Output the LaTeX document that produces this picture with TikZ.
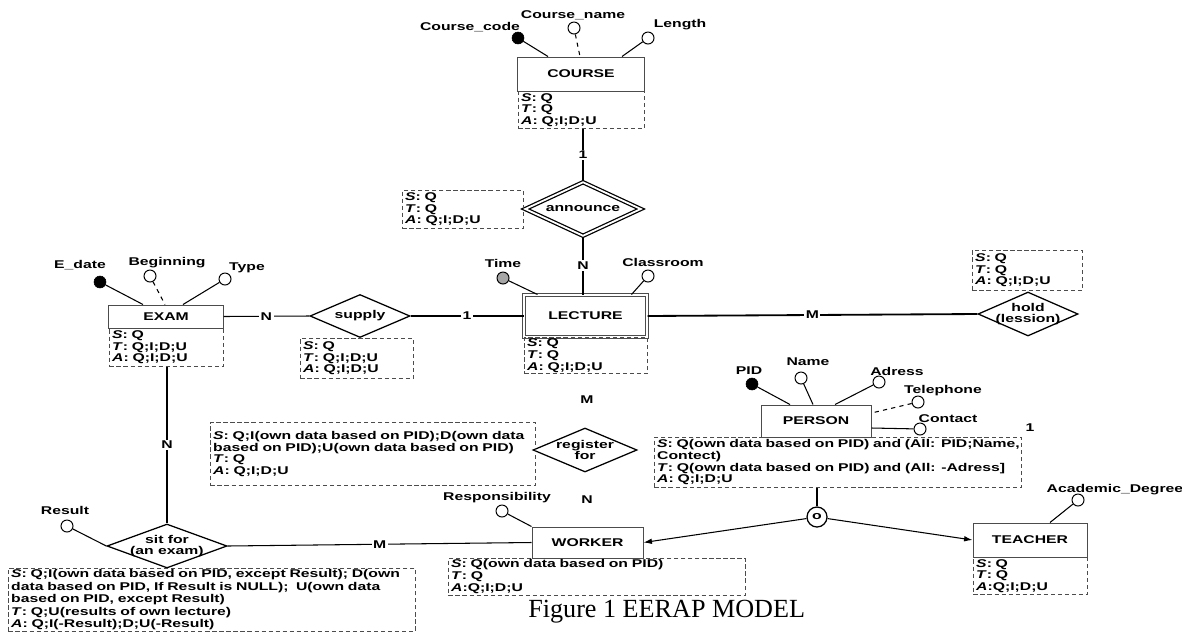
\documentclass[tikz,border=0pt]{standalone}
\usepackage{fontspec}
\usepackage{tikz}
\usetikzlibrary{shapes.geometric,arrows.meta,calc}
\newfontfamily\erfont{Liberation Sans}[FakeStretch=1.4]
\newfontfamily\capfont{Liberation Serif}
\newcommand{\perm}[1]{\textit{#1}:}

\begin{document}
\begin{tikzpicture}[x=0.025cm,y=-0.025cm,
		every node/.style={font=\erfont\bfseries\fontsize{8}{8.3}\selectfont},
		entity/.style={draw=black!70, line width=0.7pt, inner sep=0pt},
		weak/.style={entity, double, double distance=1.2pt},
		perms/.style={draw=black!70, dash pattern=on 3pt off 2pt, line width=0.6pt, anchor=north west, align=left, inner xsep=2pt, inner ysep=1pt},
		rel/.style={diamond, draw, line width=0.9pt, inner sep=0pt, label={[align=center]center:#1}},
		keyattr/.style={circle, draw, fill=black, minimum size=0.3cm, inner sep=0pt},
		attr/.style={circle, draw, line width=0.7pt, minimum size=0.3cm, inner sep=0pt},
		lbl/.style={inner sep=1pt},
		card/.style={fill=white, inner sep=1pt},
		link/.style={line width=0.75pt},
		strong/.style={line width=1.8pt}]
	\useasboundingbox (0,0) rectangle (1182,633);

	%Entidades
	\node[entity, minimum width=3.15cm, minimum height=0.85cm] (course) at (581,74) {COURSE};
	\node[perms, text width=3.01cm, minimum height=0.925cm] (cperm) at (518,91) {\perm{S} Q\\\perm{T} Q\\\perm{A} Q;I;D;U};

	\node[weak, minimum width=3.075cm, minimum height=1.05cm] (lecture) at (585.5,316) {LECTURE};
	\node[perms, text width=2.935cm, minimum height=0.875cm] (lperm) at (524,337) {\perm{S} Q\\\perm{T} Q\\\perm{A} Q;I;D;U};

	\node[entity, minimum width=2.85cm, minimum height=0.575cm] (exam) at (166,316.5) {EXAM};
	\node[perms, text width=2.71cm, minimum height=0.95cm] (eperm) at (109,328) {\perm{S} Q\\\perm{T} Q;I;D;U\\\perm{A} Q;I;D;U};

	\node[entity, minimum width=2.75cm, minimum height=0.8cm] (person) at (816,421) {PERSON};
	\node[perms, text width=9.035cm, minimum height=1.25cm] (pperm) at (654,437) {\mbox{\perm{S} Q(own data based on PID) and (All: PID;Name,}\\Contect)\\\mbox{\perm{T} Q(own data based on PID) and (All: -Adress]}\\\perm{A} Q;I;D;U};

	\node[entity, minimum width=2.775cm, minimum height=0.775cm] (worker) at (587.5,542.5) {WORKER};
	\node[perms, text width=7.285cm, minimum height=0.8cm] (wperm) at (448,558) {\perm{S} Q(own data based on PID)\\\perm{T} Q\\\perm{A}Q;I;D;U};

	\node[entity, minimum width=2.85cm, minimum height=0.85cm] (teacher) at (1030,540) {TEACHER};
	\node[perms, text width=2.71cm, minimum height=0.925cm] (tperm) at (973,557) {\perm{S} Q\\\perm{T} Q\\\perm{A}Q;I;D;U};

	%Relacionamentos
	\node[rel={announce}, double, double distance=1.3pt, minimum width=2.9cm, minimum height=1.35cm] (announce) at (583,209) {};
	\node[perms, text width=2.885cm, minimum height=0.95cm] (aperm) at (402,190) {\perm{S} Q\\\perm{T} Q\\\perm{A} Q;I;D;U};

	\node[rel={supply}, minimum width=2.5cm, minimum height=1.075cm] (supply) at (360,316) {};
	\node[perms, text width=2.685cm, minimum height=1cm] (sperm) at (300,338) {\perm{S} Q\\\perm{T} Q;I;D;U\\\perm{A} Q;I;D;U};

	\node[rel={hold\\(lession)}, minimum width=2.5cm, minimum height=1.1cm] (hold) at (1028,314) {};
	\node[perms, text width=2.61cm, minimum height=1cm] (hperm) at (972,250) {\perm{S} Q\\\perm{T} Q\\\perm{A} Q;I;D;U};

	\node[rel={register\\for}, minimum width=2.6cm, minimum height=1.1cm] (register) at (585,450) {};
	\node[perms, text width=7.985cm, minimum height=1.575cm] (rperm) at (210,422) {\perm{S} Q;I(own data based on PID);D(own data\\based on PID);U(own data based on PID)\\\perm{T} Q\\\perm{A} Q;I;D;U};

	\node[rel={sit for\\(an exam)}, minimum width=3cm, minimum height=1.1cm] (sitfor) at (167,546) {};
	\node[perms, text width=10.035cm, font=\erfont\bfseries\fontsize{8}{8.8}\selectfont] (fperm) at (8,568) {\perm{S} Q;I(own data based on PID, except Result); D(own\\data based on PID, If Result is NULL);\ \ U(own data\\based on PID, except Result)\\\perm{T} Q;U(results of own lecture)\\\perm{A} Q;I(-Result);D;U(-Result)};

	%Atributos
	\node[keyattr] (ccode) at (518,38) {};
	\node[lbl] (ccode-t) at (470,27) {Course\_code};
	\node[attr] (cname) at (574,28) {};
	\node[lbl] (cname-t) at (573,15) {Course\_name};
	\node[attr] (clen) at (648,38) {};
	\node[lbl] (clen-t) at (680,25) {Length};
	\draw[link] (ccode) -- ($(course.north)+(-33,0)$);
	\draw[link, dashed] (cname) -- ($(course.north)+(-1,0)$);
	\draw[link] (clen) -- ($(course.north)+(41,0)$);

	\node[attr, fill=black!35] (time) at (503,278) {};
	\node[lbl] (time-t) at (503,263) {Time};
	\node[attr] (room) at (648,276) {};
	\node[lbl] (room-t) at (663,262) {Classroom};
	\draw[link] (time) -- ($(lecture.north)+(-48,0)$);
	\draw[link] (room) -- ($(lecture.north)+(46,0)$);

	\node[keyattr] (edate) at (100,282) {};
	\node[lbl] (edate-t) at (80,265) {E\_date};
	\node[attr] (begin) at (150,276) {};
	\node[lbl] (begin-t) at (167,263) {Beginning};
	\node[attr] (etype) at (225,279) {};
	\node[lbl] (etype-t) at (247,268) {Type};
	\draw[link] (edate) -- ($(exam.north)+(-23,0)$);
	\draw[link, dashed] (begin) -- ($(exam.north)+(-1,0)$);
	\draw[link] (etype) -- ($(exam.north)+(17,0)$);

	\node[keyattr] (pid) at (752,384) {};
	\node[lbl] (pid-t) at (749,371) {PID};
	\node[attr] (pname) at (801,378) {};
	\node[lbl] (pname-t) at (808,362) {Name};
	\node[attr] (padr) at (879,382) {};
	\node[lbl] (padr-t) at (897,371) {Adress};
	\node[attr] (ptel) at (918,402) {};
	\node[lbl] (ptel-t) at (943,391) {Telephone};
	\node[attr] (pcon) at (920,429) {};
	\node[lbl] (pcon-t) at (948,419) {Contact};
	\draw[link] (pid) -- ($(person.north)+(-26,0)$);
	\draw[link] (pname) -- ($(person.north)+(-3,0)$);
	\draw[link] (padr) -- ($(person.north)+(19,0)$);
	\draw[link, dashed] (ptel) -- ($(person.east)+(0,-8)$);
	\draw[link] (pcon) -- ($(person.east)+(0,7)$);

	\node[attr] (resp) at (502,511) {};
	\node[lbl] (resp-t) at (497,498) {Responsibility};
	\draw[link] (resp) -- (worker.north west);

	\node[attr] (degree) at (1078,500) {};
	\node[lbl, anchor=west] (degree-t) at (1045,490) {Academic\_Degree};
	\draw[link] (degree) -- ($(teacher.north)+(20,0)$);

	\node[attr] (result) at (67,526) {};
	\node[lbl] (result-t) at (65,510) {Result};
	\draw[link] (result) -- (sitfor.west);

	%Ligacoes
	\draw[strong] (cperm.south -| announce.north) -- node[card] {1} (announce.north);
	\draw[strong] (announce.south) -- node[card] {N} (lecture.north -| announce.south);
	\draw[link] (exam.east) -- node[card] {N} (supply.west);
	\draw[link] (supply.east) -- node[card] {1} (lecture.west);
	\draw[line width=1.3pt] (lecture.east) -- node[card] {M} (hold.west);
	\draw[link] (eperm.south -| sitfor.north) -- node[card] {N} (sitfor.north);
	\draw[link] (sitfor.east) -- node[card] {M} (worker.west);
	\node[lbl] (reg-m) at (587,400) {M};
	\node[lbl] (reg-n) at (587,500) {N};
	\node[lbl] (pers-1) at (1030,428) {1};

	%Especializacao
	\node[circle, draw, line width=0.9pt, minimum size=0.5cm, inner sep=0pt] (disj) at (817,517) {o};
	\draw[link] (pperm.south -| disj.north) -- (disj.north);
	\draw[link, -{Latex[length=6pt,width=4pt]}] (disj) -- (worker.east);
	\draw[link, -{Latex[length=6pt,width=4pt]}] (disj) -- (teacher.west);

	%Legenda
	\node[font=\capfont\fontsize{18.6}{18.6}\selectfont, anchor=base west, inner sep=0pt] (caption) at (528,617) {Figure 1 EERAP MODEL};
\end{tikzpicture}
\end{document}
